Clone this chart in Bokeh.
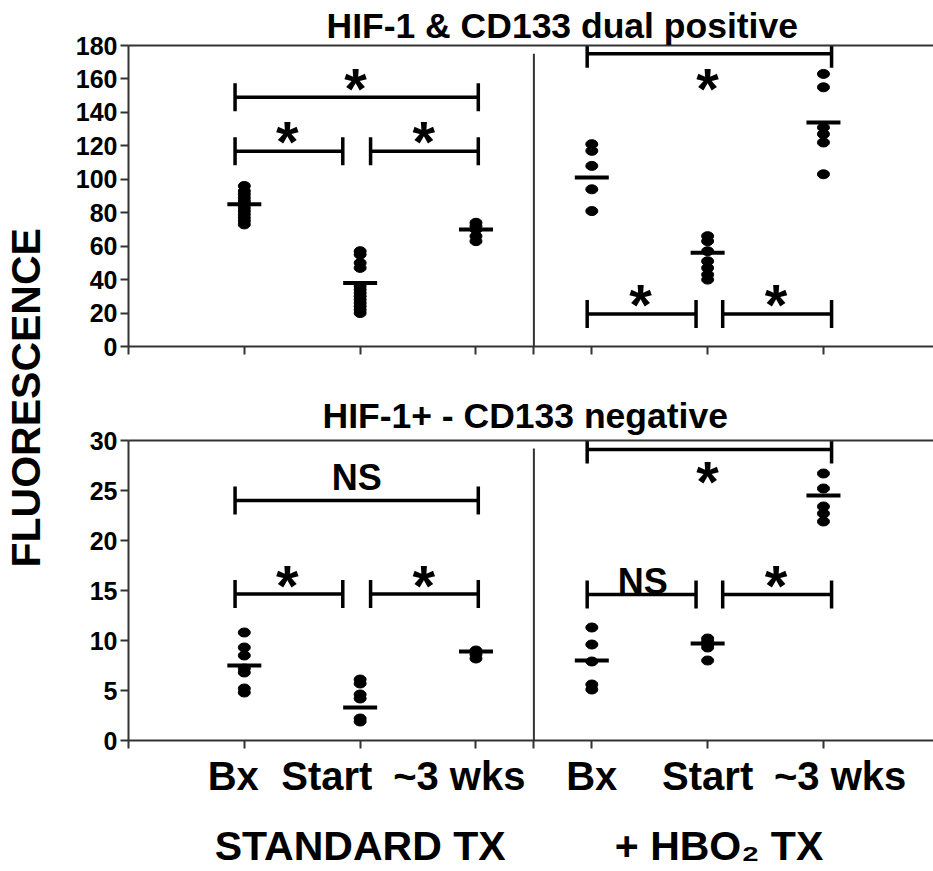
from bokeh.plotting import figure
from bokeh.models import (Range1d, FixedTicker, LinearAxis, ColumnDataSource,
                          Whisker, TeeHead, Title)
from bokeh.layouts import row, column
from bokeh.core.properties import value
from bokeh.embed import file_html
from bokeh.resources import INLINE

# ---------------- data ----------------
categories = ["Bx", "Start", "~3 wks"]
groups = ["STANDARD TX", "+ HBO\u2082 TX"]
panel_titles = ["HIF-1 & CD133 dual positive", "HIF-1+ - CD133 negative"]
y_label = "FLUORESCENCE"

# HIF-1 & CD133 dual positive
dual_std_bx = [96, 93, 91, 89, 87, 85, 83, 81, 79, 77, 75, 73]
dual_std_start = [57, 55, 50, 47, 36, 34, 32, 30, 28, 26, 24, 22, 20]
dual_std_wks = [74, 72, 70, 66, 63]
dual_std_means = [85, 38, 70]
dual_hbo_bx = [121, 117, 108, 94, 81]
dual_hbo_start = [66, 63, 57, 51, 47, 43, 40]
dual_hbo_wks = [163, 155, 131, 127, 122, 103]
dual_hbo_means = [101, 56, 134]
dual_y_ticks = [0, 20, 40, 60, 80, 100, 120, 140, 160, 180]

# HIF-1+ - CD133 negative
neg_std_bx = [10.8, 9.3, 8.5, 7.2, 6.8, 5.2, 4.8]
neg_std_start = [6.1, 5.7, 4.6, 4.2, 2.2, 1.9]
neg_std_wks = [9.0, 8.6, 8.2]
neg_std_means = [7.5, 3.3, 8.9]
neg_hbo_bx = [11.3, 9.6, 7.9, 5.6, 5.1]
neg_hbo_start = [10.2, 9.9, 9.6, 9.3, 8.0]
neg_hbo_wks = [26.7, 25.2, 23.4, 22.7, 21.9]
neg_hbo_means = [8.0, 9.7, 24.5]
neg_y_ticks = [0, 5, 10, 15, 20, 25, 30]

# significance brackets (x from, x to, level) on the category axis
dual_br_x0 = [0.92, 0.92, 2.09, 3.96, 3.96, 5.13]
dual_br_x1 = [3.02, 1.85, 3.02, 6.07, 4.90, 6.07]
dual_br_y = [149, 116.7, 116.7, 175, 19.5, 19.5]
dual_mark_x = [1.96, 1.37, 2.55, 5.00, 4.42, 5.59]
dual_mark_y = [161, 129, 129, 161, 31.5, 31.5]
dual_mark_text = ["*", "*", "*", "*", "*", "*"]

neg_br_x0 = [0.92, 0.92, 2.09, 3.96, 3.96, 5.13]
neg_br_x1 = [3.02, 1.85, 3.02, 6.07, 4.90, 6.07]
neg_br_y = [24.0, 14.65, 14.65, 29.1, 14.6, 14.6]
neg_mark_x = [1.97, 1.37, 2.55, 5.00, 4.44, 5.59]
neg_mark_y = [26.3, 16.6, 16.6, 27.0, 15.9, 16.6]
neg_mark_text = ["NS", "*", "*", "*", "NS", "*"]

# ---------------- style ----------------
FONT = "Liberation Sans"
AX = "#333333"
N = len(categories)
X_END = 6.95
NB = "\u00a0"
# (leading, trailing) non-breaking-space padding that nudges each tick label
cat_pad = [[(0, 2), (0, 6), (0, 3)], [(0, 0), (0, 0), (3, 0)]]
group_pad = [(0, 0), (2, 0)]


def style_axis(ax):
    ax.axis_line_width = 2
    ax.axis_line_color = AX
    ax.major_tick_line_width = 2
    ax.major_tick_line_color = AX
    ax.major_tick_out = 8
    ax.major_tick_in = 0
    ax.minor_tick_line_width = 2
    ax.minor_tick_line_color = AX
    ax.minor_tick_out = 8
    ax.minor_tick_in = 0
    ax.major_label_text_font = FONT
    ax.major_label_text_font_style = "bold"
    ax.major_label_text_color = "black"


def padded(text, pad):
    return NB * pad[0] + text + NB * pad[1]


def panel(title, pts, means, yticks, ymax, br, marks, height, b_top, b_bottom,
          title_offset, title_standoff, labelled):
    p = figure(width=875, height=height, x_range=Range1d(0, X_END),
               y_range=Range1d(0, ymax), output_backend="svg",
               toolbar_location=None, min_border_left=70, min_border_right=0,
               min_border_top=b_top, min_border_bottom=b_bottom)
    p.grid.visible = False
    p.outline_line_color = None

    xs, ys, mx, my = [], [], [], []
    for g in range(len(groups)):
        for c in range(N):
            xpos = g * N + c + 1
            vals = pts[g][c]
            xs += [xpos] * len(vals)
            ys += vals
            mx.append(xpos)
            my.append(means[g][c])
    p.ellipse(xs, ys, width=12, height=9, width_units="screen",
              height_units="screen", color="black")
    p.scatter(mx, my, marker="dash", size=34, line_width=4, color="black")

    # divider between treatment groups
    p.segment(x0=[N + 0.5], y0=[0], x1=[N + 0.5], y1=[ymax * 0.973],
              line_color=AX, line_width=2)

    # brackets
    x0, x1, yb = br
    src = ColumnDataSource(dict(x0=x0, x1=x1, y=yb))
    p.add_layout(Whisker(source=src, base="y", lower="x0", upper="x1",
                         dimension="width", line_width=3.5, line_color="black",
                         lower_head=TeeHead(size=28, line_width=3.5, line_color="black"),
                         upper_head=TeeHead(size=28, line_width=3.5, line_color="black")))
    mxs, mys, mtx = marks
    sx = [a for a, t in zip(mxs, mtx) if t == "*"]
    sy = [a for a, t in zip(mys, mtx) if t == "*"]
    nx = [a for a, t in zip(mxs, mtx) if t != "*"]
    ny = [a for a, t in zip(mys, mtx) if t != "*"]
    nt = [t for t in mtx if t != "*"]
    p.text(sx, sy, text=["*"] * len(sx), text_font=value(FONT),
           text_font_size="58px", text_font_style="bold", text_align="center",
           text_baseline="middle", y_offset=11, color="black")
    if nx:
        p.text(nx, ny, text=nt, text_font=value(FONT), text_font_size="36px",
               text_font_style="bold", text_align="center",
               text_baseline="middle", y_offset=0, color="black")

    # axes
    style_axis(p.xaxis[0])
    style_axis(p.yaxis[0])
    p.yaxis.ticker = FixedTicker(ticks=yticks)
    p.yaxis.major_label_text_font_size = "25px"
    p.yaxis.major_label_standoff = 3

    cat_pos = [g * N + c + 1 for g in range(len(groups)) for c in range(N)]
    if labelled:
        p.xaxis.ticker = FixedTicker(ticks=cat_pos, minor_ticks=[0, N + 0.5])
        p.xaxis.major_label_overrides = {
            g * N + c + 1: padded(categories[c], cat_pad[g][c])
            for g in range(len(groups)) for c in range(N)}
        p.xaxis.major_label_text_font_size = "40px"
        p.xaxis.major_label_standoff = 5
        gpos = [g * N + (N + 1) / 2 for g in range(len(groups))]
        gax = LinearAxis(ticker=FixedTicker(ticks=gpos),
                         major_label_overrides={gp: padded(groups[g], group_pad[g])
                                                for g, gp in enumerate(gpos)},
                         axis_line_color=None, major_tick_line_color=None,
                         minor_tick_line_color=None, major_tick_out=0, major_tick_in=0,
                         minor_tick_out=0, minor_tick_in=0,
                         major_label_text_font=FONT, major_label_text_font_style="bold",
                         major_label_text_font_size="41px", major_label_text_color="black",
                         major_label_standoff=22)
        p.add_layout(gax, "below")
    else:
        p.xaxis.ticker = FixedTicker(ticks=[], minor_ticks=[0] + cat_pos + [N + 0.5])
        p.xaxis.major_label_standoff = 0

    top = LinearAxis(ticker=FixedTicker(ticks=[]), axis_line_width=2,
                     axis_line_color=AX, major_tick_line_color=None,
                     minor_tick_line_color=None, major_tick_out=0, major_tick_in=0,
                     minor_tick_out=0, minor_tick_in=0, major_label_standoff=0)
    p.add_layout(top, "above")

    p.title.text = title
    p.title.align = "left"
    p.title.text_font = FONT
    p.title.text_font_size = "35.5px"
    p.title.text_font_style = "bold"
    p.title.text_color = "black"
    p.title.offset = title_offset
    p.title.standoff = title_standoff
    return p


top = panel(panel_titles[0],
            [[dual_std_bx, dual_std_start, dual_std_wks], [dual_hbo_bx, dual_hbo_start, dual_hbo_wks]],
            [dual_std_means, dual_hbo_means], dual_y_ticks, 180,
            (dual_br_x0, dual_br_x1, dual_br_y), (dual_mark_x, dual_mark_y, dual_mark_text),
            388, 45, 42, 198, 0, False)
bottom = panel(panel_titles[1],
               [[neg_std_bx, neg_std_start, neg_std_wks], [neg_hbo_bx, neg_hbo_start, neg_hbo_wks]],
               [neg_std_means, neg_hbo_means], neg_y_ticks, 30,
               (neg_br_x0, neg_br_x1, neg_br_y), (neg_mark_x, neg_mark_y, neg_mark_text),
               483, 51, 126, 194, 10, True)

lf = figure(width=58, height=871, x_range=Range1d(0, 1), y_range=Range1d(0, 1),
            output_backend="svg", toolbar_location=None, min_border=0,
            x_axis_type=None, y_axis_type=None, title=None)
lf.grid.visible = False
lf.outline_line_color = None
lf.add_layout(Title(text=y_label, align="left", offset=304, standoff=0,
                    text_font=FONT, text_font_size="41px", text_font_style="bold",
                    text_color="black"), "left")

layout = row(lf, column(top, bottom))
open("out.html", "w").write(file_html(layout, INLINE))
